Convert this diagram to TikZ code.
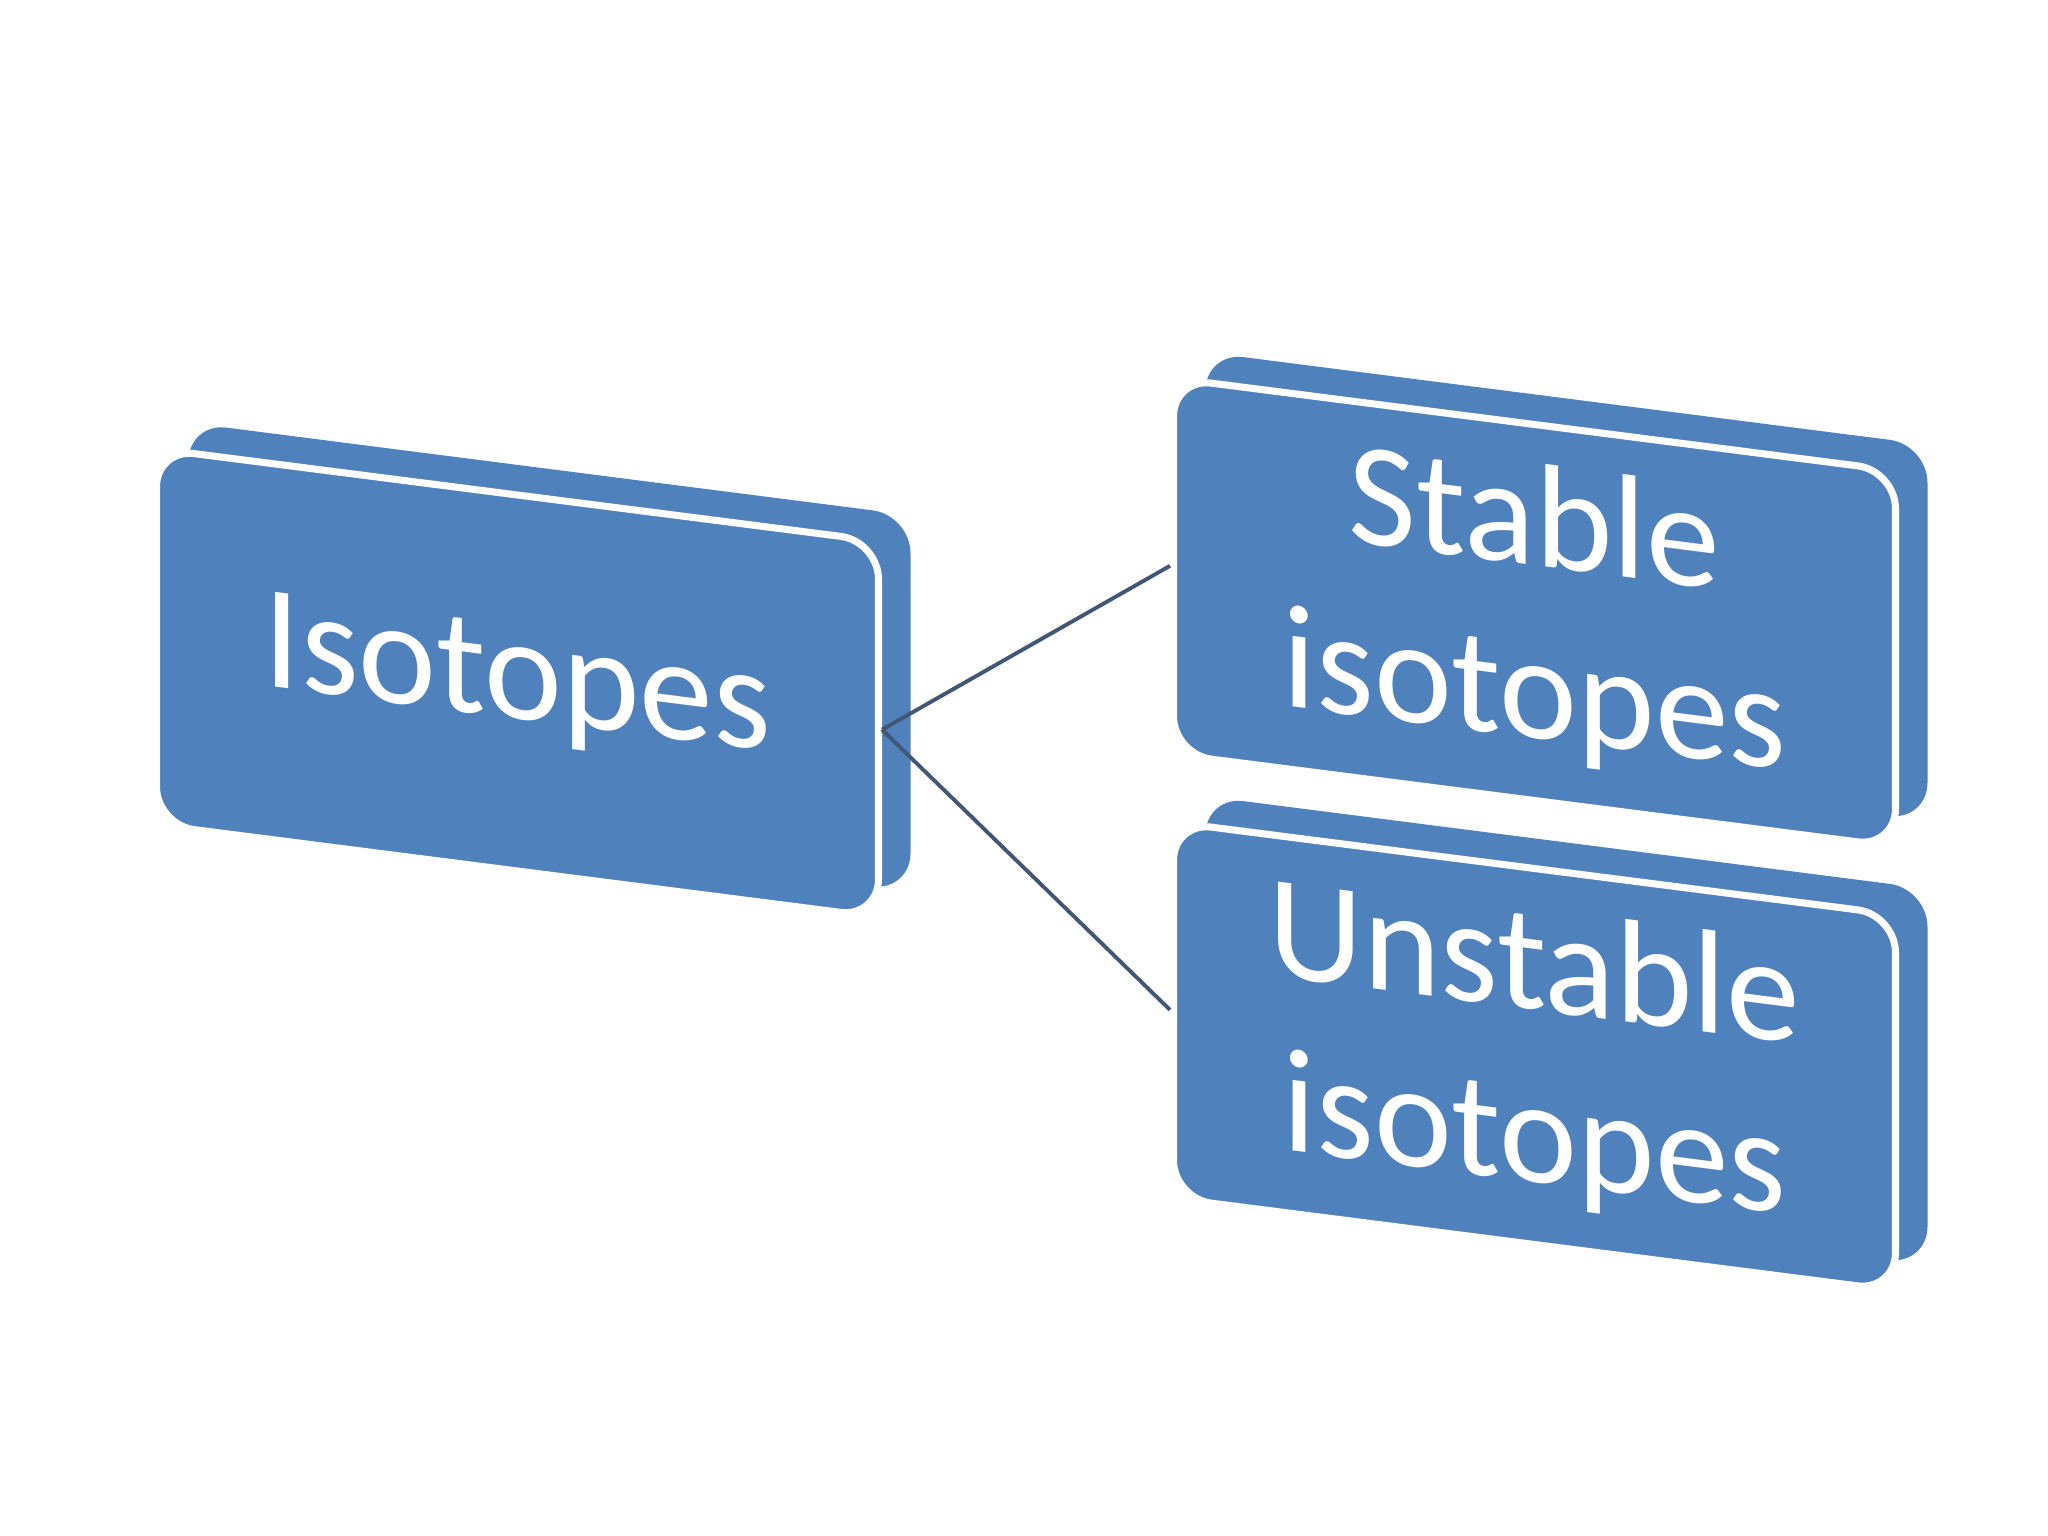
\documentclass[tikz,border=0pt]{standalone}
\usepackage{fontspec}
\setmainfont{Carlito}
\usetikzlibrary{shadows}
\definecolor{slabblue}{RGB}{79,129,189}
\definecolor{linkgray}{RGB}{66,86,118}

\begin{document}
\begin{tikzpicture}[slab/.style={fill=slabblue, draw=white, line width=2pt, rounded corners=0.38cm, minimum width=7.22cm, minimum height=3.76cm, yslant=-0.128, align=center, text=white, font=\fontsize{42}{49}\selectfont, copy shadow={shadow xshift=0.32cm, shadow yshift=0.26cm, fill=slabblue, draw=none}}, link/.style={draw=linkgray, line width=1.1pt}]

  \useasboundingbox (0,0) rectangle (20.48,-15.36);

  % Boxes
  \node[slab] (iso) at (5.175,-6.83) {Isotopes};
  \node[slab] (stable) at (15.345,-6.125) {Stable\\isotopes};
  \node[slab] (unstable) at (15.345,-10.565) {Unstable\\isotopes};

  % Connectors
  \draw[link] (iso.east) -- (stable.west);
  \draw[link] (iso.east) -- (unstable.west);

\end{tikzpicture}
\end{document}
